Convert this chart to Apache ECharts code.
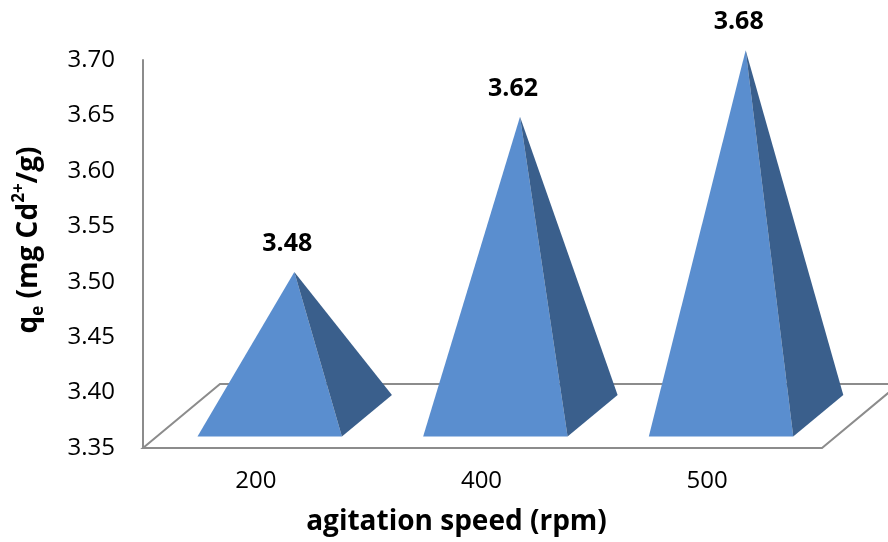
<!DOCTYPE html>
<html>
<head>
<meta charset="utf-8">
<script src="https://cdn.jsdelivr.net/npm/echarts@6/dist/echarts.min.js"></script>
<style>
  html, body { margin: 0; padding: 0; background: #fff; }
  #chart { width: 888px; height: 542px; }
</style>
</head>
<body>
<div id="chart"></div>
<script>
// Agitation speed categories and equilibrium uptake values
const categories = ['200', '400', '500'];
const qeValues = [3.48, 3.62, 3.68];

// Value axis range and tick step
const yMin = 3.35;
const yMax = 3.70;
const yStep = 0.05;

const FONT = '"Open Sans", "Liberation Sans", sans-serif';
// Oblique depth vector of the 3-D floor (pixels)
const DEPTH = [77, -64];
const FRONT_COLOR = '#5A8ECF';
const SIDE_COLOR = '#3A5F8C';
const FLOOR_STROKE = '#8C8C8C';

function shift(x, y, d) {
  return [x + DEPTH[0] * d, y + DEPTH[1] * d];
}

// Floor slab drawn once from the grid rectangle
function renderFloor(params, api) {
  const cs = params.coordSys;
  const x0 = cs.x, x1 = cs.x + cs.width + 2, y0 = cs.y + cs.height;
  const pts = [[x0, y0], [x1, y0], shift(x1, y0, 1), shift(x0, y0, 1)];
  return {
    type: 'polygon',
    shape: { points: pts },
    style: { fill: '#fff', stroke: FLOOR_STROKE, lineWidth: 2 },
    silent: true
  };
}

// One pyramid per category: front face, right face and value label
function renderPyramid(params, api) {
  const i = api.value(0);
  const v = api.value(1);
  const top = api.coord([i, v]);
  const base = api.coord([i, yMin]);
  const hw = api.size([1, 0])[0] * 0.32;
  const fl = shift(base[0] - hw, base[1], 0.18);
  const fr = shift(base[0] + hw, base[1], 0.18);
  const br = shift(base[0] + hw, base[1], 0.83);
  const apex = shift(top[0], top[1], 0.5);
  return {
    type: 'group',
    children: [
      { type: 'polygon', shape: { points: [fl, fr, apex] }, style: { fill: FRONT_COLOR } },
      { type: 'polygon', shape: { points: [fr, br, apex] }, style: { fill: SIDE_COLOR } },
      {
        type: 'text',
        style: {
          text: v.toFixed(2),
          x: apex[0] - 7,
          y: apex[1] - 28,
          align: 'center',
          verticalAlign: 'middle',
          fontFamily: FONT,
          fontWeight: 'bold',
          fontSize: 25,
          fill: '#000'
        }
      }
    ]
  };
}

const chart = echarts.init(document.getElementById('chart'), null, { renderer: 'canvas' });

chart.setOption({
  animation: false,
  backgroundColor: '#fff',
  grid: { left: 143, right: 68, top: 60, bottom: 94, containLabel: false },
  xAxis: {
    type: 'category',
    data: categories,
    axisLine: { show: false },
    axisTick: { show: false },
    axisLabel: { color: '#000', fontFamily: FONT, fontSize: 24, margin: 21 },
    name: 'agitation speed (rpm)',
    nameLocation: 'middle',
    nameGap: 60,
    nameTextStyle: {
      color: '#000', fontFamily: FONT, fontSize: 28, fontWeight: 'bold',
      padding: [0, 50, 0, 0]
    }
  },
  yAxis: {
    type: 'value',
    min: yMin,
    max: yMax,
    interval: yStep,
    axisLine: { show: true, lineStyle: { color: FLOOR_STROKE, width: 2 } },
    axisTick: { show: false },
    splitLine: { show: false },
    axisLabel: {
      color: '#000', fontFamily: FONT, fontSize: 24, margin: 28,
      formatter: (val) => val.toFixed(2)
    },
    name: '{b|q}{sub|e}{b| (mg Cd}{sup|2+}{b|/g)}',
    nameLocation: 'middle',
    nameRotate: 90,
    nameGap: 96,
    nameTextStyle: {
      padding: [0, 0, 0, 28],
      rich: {
        b: { fontFamily: FONT, fontSize: 28, fontWeight: 'bold', color: '#000', lineHeight: 36 },
        sub: { fontFamily: FONT, fontSize: 17, fontWeight: 'bold', color: '#000', verticalAlign: 'bottom', lineHeight: 36 },
        sup: { fontFamily: FONT, fontSize: 17, fontWeight: 'bold', color: '#000', verticalAlign: 'top', lineHeight: 36 }
      }
    }
  },
  series: [
    {
      type: 'custom',
      name: 'floor',
      coordinateSystem: 'cartesian2d',
      renderItem: renderFloor,
      data: [[0, yMin]],
      z: 1,
      silent: true,
      clip: false
    },
    {
      type: 'custom',
      name: 'qe',
      coordinateSystem: 'cartesian2d',
      renderItem: renderPyramid,
      encode: { x: 0, y: 1 },
      data: qeValues.map((v, i) => [i, v]),
      z: 2,
      clip: false
    }
  ]
});
</script>
</body>
</html>
